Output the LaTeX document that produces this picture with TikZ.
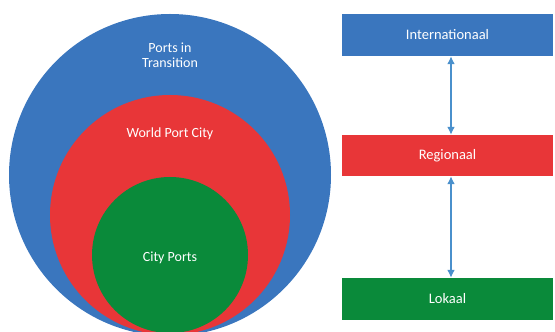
\documentclass[tikz,border=0pt]{standalone}
\usepackage{fontspec}
\setmainfont{Carlito}
\usetikzlibrary{arrows.meta}

\definecolor{portblue}{RGB}{58,118,190}
\definecolor{portred}{RGB}{232,54,56}
\definecolor{portgreen}{RGB}{10,138,58}
\definecolor{linkblue}{RGB}{74,144,204}

\tikzset{
	level/.style={rectangle, minimum width=211pt, minimum height=42pt, inner sep=0pt,
		text=white, font=\fontsize{14.5}{16}\selectfont},
	ring/.style={text=white, font=\fontsize{14}{15}\selectfont, align=center},
	link/.style={{Latex[length=8pt,width=8pt]}-{Latex[length=8pt,width=8pt]}, linkblue, line width=2.3pt}
}

\begin{document}
\begin{tikzpicture}[x=1pt, y=1pt]
		\useasboundingbox (0,0) rectangle (555,332);

		% nested circles, cut off at the bottom edge
		\begin{scope}
			\clip (0,0) rectangle (555,332);
			\fill [portblue] (170,157) circle (161);
			\fill [portred] (170,117) circle (120);
			\fill [portgreen] (170,77) circle (78);
		\end{scope}

		\node [ring] (transition) at (170,276.5) {Ports in\\Transition};
		\node [ring] (worldport) at (170,198) {World Port City};
		\node [ring] (cityports) at (170,74) {City Ports};

		% the three levels
		\node [level, fill=portblue] (intl) at (447.5,297) {Internationaal};
		\node [level, fill=portred, minimum height=41pt] (reg) at (447.5,176.5) {Regionaal};
		\node [level, fill=portgreen] (lok) at (447.5,33) {Lokaal};

		% links between the levels
		\coordinate (ax) at (451,0);
		\draw [link] (intl.south -| ax) -- (reg.north -| ax);
		\draw [link] (reg.south -| ax) -- (lok.north -| ax);
	\end{tikzpicture}
\end{document}
